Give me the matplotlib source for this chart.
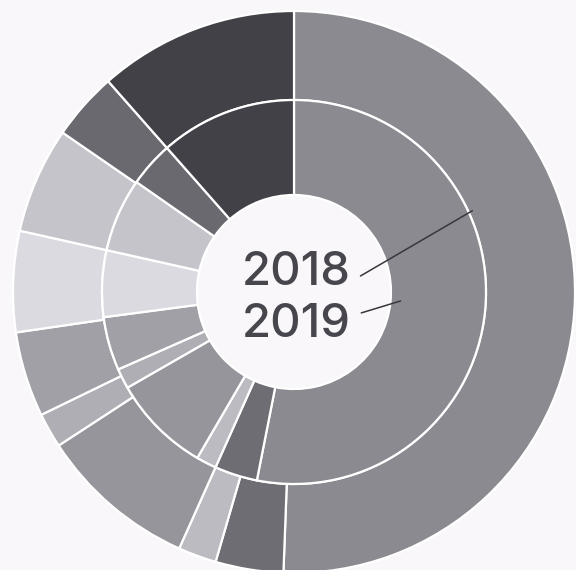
import matplotlib
matplotlib.use("Agg")
import matplotlib.pyplot as plt
import numpy as np

# share of each category, clockwise from 12 o'clock
shares_2018 = [50.6, 3.9, 2.2, 9.1, 2.0, 4.9, 5.8, 6.1, 3.9, 11.5]   # outer ring
shares_2019 = [53.1, 3.6, 1.7, 8.3, 1.7, 4.5, 5.6, 6.2, 3.8, 11.5]   # inner ring
colors = ["#8b8a90", "#6e6d73", "#bcbbc1", "#96959b", "#afaeb4",
          "#a1a0a7", "#dbdae1", "#c5c4cb", "#6a6970", "#424147"]
year_labels = ["2018", "2019"]

bg = "#f9f7fa"
fig = plt.figure(figsize=(5.76, 5.70), dpi=100, facecolor=bg)
ax = fig.add_axes((0, 0, 1, 1))
ax.set_facecolor(bg)

cx, cy = 294, 570 - 292
r_out, r_mid, r_in = 281, 192, 97
edge = dict(edgecolor="white", linewidth=1.6)

ax.pie(shares_2018, colors=colors, radius=r_out, center=(cx, cy),
       startangle=90, counterclock=False,
       wedgeprops=dict(width=r_out - r_mid, **edge))
ax.pie(shares_2019, colors=colors, radius=r_mid, center=(cx, cy),
       startangle=90, counterclock=False,
       wedgeprops=dict(width=r_mid - r_in, **edge))

ax.set_xlim(0, 576)
ax.set_ylim(0, 570)
ax.set_aspect("auto")
ax.axis("off")

# year labels with leader lines pointing at their ring
def polar(r, ang):
    a = np.deg2rad(ang)
    return cx + r * np.sin(a), cy + r * np.cos(a)

ax.annotate(year_labels[0], xy=polar(196, 65.5), xytext=(296, 570 - 273),
            ha="center", va="center", fontsize=34, family="Inter",
            fontweight="medium", color="#47464c",
            arrowprops=dict(arrowstyle="-", color="#38373d", lw=1.1,
                            shrinkA=6, shrinkB=0, relpos=(1.0, 0.3)))
ax.annotate(year_labels[1], xy=polar(107, 94.8), xytext=(296, 570 - 325),
            ha="center", va="center", fontsize=34, family="Inter",
            fontweight="medium", color="#47464c",
            arrowprops=dict(arrowstyle="-", color="#38373d", lw=1.1,
                            shrinkA=6, shrinkB=0, relpos=(1.0, 0.7)))

plt.savefig("out.png", dpi=100, facecolor=bg)
plt.close()
